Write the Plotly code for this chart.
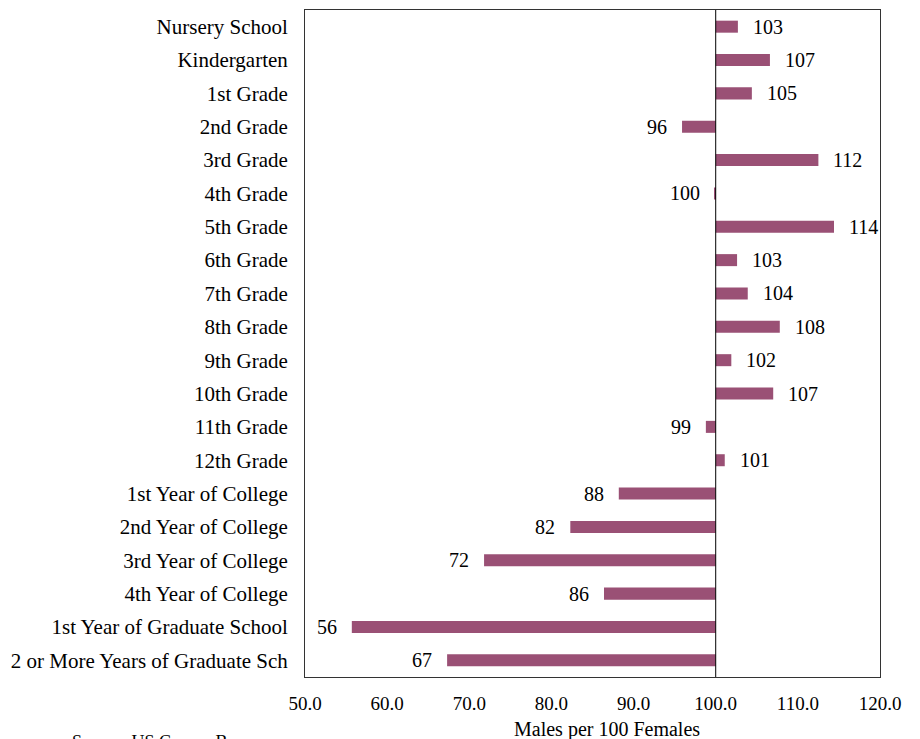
import plotly.graph_objects as go

categories = ["Nursery School", "Kindergarten", "1st Grade", "2nd Grade", "3rd Grade",
              "4th Grade", "5th Grade", "6th Grade", "7th Grade", "8th Grade",
              "9th Grade", "10th Grade", "11th Grade", "12th Grade",
              "1st Year of College", "2nd Year of College", "3rd Year of College",
              "4th Year of College", "1st Year of Graduate School",
              "2 or More Years of Graduate Sch"]
values = [102.7, 106.6, 104.4, 95.9, 112.5, 99.9, 114.4, 102.6, 103.9, 107.8,
          101.9, 107.0, 98.8, 101.1, 88.2, 82.3, 71.8, 86.4, 55.7, 67.3]
labels = ["103", "107", "105", "96", "112", "100", "114", "103", "104", "108",
          "102", "107", "99", "101", "88", "82", "72", "86", "56", "67"]
baseline = 100

FONT = "Liberation Serif, Times New Roman, serif"
BAR = "#9A5075"

fig = go.Figure()
fig.add_trace(go.Bar(
    y=categories, x=[v - baseline for v in values], base=baseline,
    orientation="h", width=0.36, marker=dict(color=BAR, line=dict(width=0)),
    hoverinfo="skip", showlegend=False,
))

for c, v, lab in zip(categories, values, labels):
    right = v >= baseline
    fig.add_annotation(x=v, y=c, text=lab, showarrow=False,
                       xanchor="left" if right else "right",
                       xshift=13 if right else -13,
                       font=dict(family=FONT, size=20, color="black"))

fig.add_vline(x=baseline, line=dict(color="black", width=1))

fig.add_annotation(xref="paper", yref="paper", x=0.525, y=-0.078, yanchor="middle",
                   text="Males per 100 Females", showarrow=False,
                   font=dict(family=FONT, size=20, color="black"))
fig.add_annotation(xref="paper", yref="paper", x=-0.409, y=-0.08, xanchor="left", yanchor="top",
                   text="Source: US Census Bureau", showarrow=False,
                   font=dict(family=FONT, size=18, color="black"))

fig.update_layout(
    width=920, height=739,
    margin=dict(l=305, r=40, t=10, b=62),
    paper_bgcolor="white", plot_bgcolor="white",
    font=dict(family=FONT, size=19, color="black"),
)
fig.update_xaxes(range=[50, 120], dtick=10, tickformat=".1f", showgrid=False,
                 zeroline=False, showline=True, linecolor="#333333", linewidth=1,
                 mirror=True, ticks="", tickfont=dict(family=FONT, size=19),
                 ticklabelstandoff=9, automargin=False)
fig.update_yaxes(autorange="reversed", showgrid=False, zeroline=False,
                 showline=True, linecolor="#333333", linewidth=1, mirror=True,
                 ticks="", tickfont=dict(family=FONT, size=21),
                 ticklabelstandoff=12, automargin=False)

fig.write_html("out.html", config={"displayModeBar": False},
               post_script="document.body.style.margin='0';")
